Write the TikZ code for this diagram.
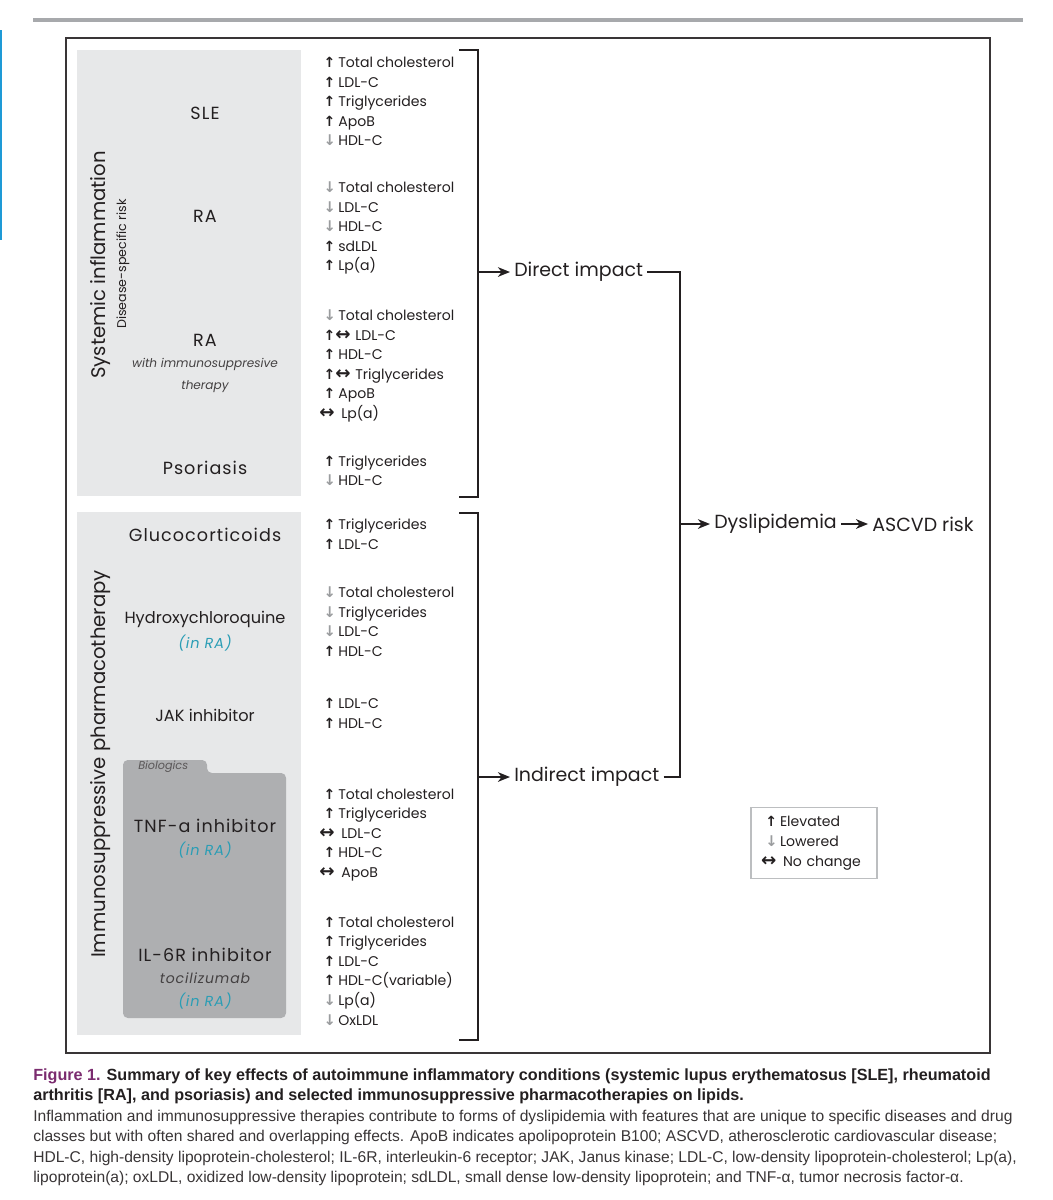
\documentclass[tikz,border=0pt]{standalone}
\usepackage{fontspec}
\setmainfont{Poppins}
\newfontfamily\trackfont[LetterSpace=6]{Poppins}
\newfontfamily\capfont{Liberation Sans}
\newfontfamily\arrfont{DejaVu Sans}
\usepackage{xcolor}
\usetikzlibrary{positioning,arrows.meta}
\definecolor{ink}{HTML}{231F20}
\definecolor{panel}{HTML}{E7E8E9}
\definecolor{bio}{HTML}{AEAFB1}
\definecolor{inra}{HTML}{2A9DB5}
\definecolor{figcol}{HTML}{7B2C6F}
\definecolor{rulegray}{HTML}{A7A9AC}
\definecolor{bluebar}{HTML}{1E9AD6}
\definecolor{legendline}{HTML}{BCBEC0}
\definecolor{lowgray}{HTML}{9A9C9E}
\newcommand{\incr}{\makebox[3.25mm][l]{\hspace*{-0.4mm}\arrfont\bfseries\fontsize{10}{10}\selectfont ↑}}
\newcommand{\decr}{\makebox[3.25mm][l]{\hspace*{-0.4mm}\color{lowgray}\arrfont\bfseries\fontsize{10.5}{10}\selectfont ↓}}
\newcommand{\nochg}{\hspace*{-1.5mm}\makebox[5.5mm][l]{\arrfont\bfseries\fontsize{13}{10}\selectfont ↔}}
\newcommand{\incnc}{\makebox[7.5mm][l]{\hspace*{-0.4mm}\arrfont\bfseries\fontsize{10}{10}\selectfont ↑\fontsize{13}{10}\selectfont ↔}}

\begin{document}
\begin{tikzpicture}[x=0.25mm, y=-0.25mm, >={Stealth[length=3mm,width=2.4mm,inset=0.9mm]},
    headlbl/.style = {text=ink, font=\trackfont\fontsize{12.5}{15}\selectfont},
    drughead/.style = {text=ink, font=\fontsize{11.5}{14}\selectfont},
    sublbl/.style = {text=ink!85, font=\itshape\fontsize{8.6}{10}\selectfont},
    inralbl/.style = {text=inra, font=\trackfont\itshape\fontsize{10.3}{12}\selectfont},
    lipids/.style = {anchor=west, align=left, inner sep=0pt, text=ink, font=\fontsize{10}{13.9}\selectfont},
    sidelbl/.style = {rotate=90, text=ink, font=\fontsize{14}{16}\selectfont},
    flowtxt/.style = {anchor=west, inner sep=0pt, inner xsep=1mm, text=ink, font=\fontsize{13.5}{16}\selectfont},
    wire/.style = {draw=ink, line width=0.45mm},
    legend/.style = {draw=legendline, line width=0.3mm, align=left, text width=23.5mm, inner xsep=4mm, inner ysep=0pt, minimum height=17.75mm, text=ink, font=\fontsize{10}{14.2}\selectfont}]
    \useasboundingbox (0,0) rectangle (1053,1200);
    \fill[rulegray] (33,17.5) rectangle (1023,21.5);
    \fill[bluebar] (0,30) rectangle (2,240);
    \draw[draw=ink!90, line width=0.6mm] (66,38) rectangle (990,1053);
    \fill[panel] (77,50) rectangle (301,496);
    \fill[panel] (77,512) rectangle (301,1035);
    \fill[bio, rounded corners=1.2mm] (123,1018) -- (123,760) -- (207,760) -- (207,773) -- (286,773) -- (286,1018) -- cycle;

    \node[sidelbl] (sys) at (101,265) {Systemic inflammation};
    \node[sidelbl, font=\fontsize{9}{11}\selectfont] (dsr) at (123,264) {Disease-specific risk};
    \node[sidelbl] (isp) at (101,764) {Immunosuppressive pharmacotherapy};

    \node[headlbl] (sle) at (205,113) {SLE};
    \node[headlbl] (ra) at (205,216) {RA};
    \node[headlbl] (rai) at (205,340) {RA};
    \node[sublbl] (rai2) at (205,364) {with immunosuppresive};
    \node[sublbl] (rai3) at (205,387) {therapy};
    \node[headlbl] (pso) at (205,468) {Psoriasis};
    \node[headlbl] (gc) at (205,535) {Glucocorticoids};
    \node[drughead] (hcq) at (205,619) {Hydroxychloroquine};
    \node[inralbl] (hcq2) at (205,643) {(in RA)};
    \node[drughead] (jak) at (205,715) {JAK inhibitor};
    \node[anchor=west, inner sep=0pt, text=ink!75, font=\itshape\fontsize{8}{10}\selectfont] (biol) at (138,767) {Biologics};
    \node[headlbl] (tnf) at (205,826) {TNF-a inhibitor};
    \node[inralbl] (tnf2) at (205,850) {(in RA)};
    \node[headlbl] (il6) at (205,955) {IL-6R inhibitor};
    \node[sublbl, font=\trackfont\itshape\fontsize{10}{12}\selectfont] (il62) at (205,978) {tocilizumab};
    \node[inralbl] (il63) at (205,1001) {(in RA)};

    \node[lipids] (l1) at (325,101.5) {\incr Total cholesterol\\\incr LDL-C\\\incr Triglycerides\\\incr ApoB\\\decr HDL-C};
    \node[lipids] (l2) at (325,228) {\decr Total cholesterol\\\decr LDL-C\\\decr HDL-C\\\incr sdLDL\\\incr Lp(a)};
    \node[lipids] (l3) at (325,366) {\decr Total cholesterol\\\incnc LDL-C\\\incr HDL-C\\\incnc Triglycerides\\\incr ApoB\\\nochg Lp(a)};
    \node[lipids] (l4) at (325,470.5) {\incr Triglycerides\\\decr HDL-C};
    \node[lipids] (l5) at (325,534) {\incr Triglycerides\\\incr LDL-C};
    \node[lipids] (l6) at (325,621.5) {\decr Total cholesterol\\\decr Triglycerides\\\decr LDL-C\\\incr HDL-C};
    \node[lipids] (l7) at (325,713.5) {\incr LDL-C\\\incr HDL-C};
    \node[lipids] (l8) at (325,835) {\incr Total cholesterol\\\incr Triglycerides\\\nochg LDL-C\\\incr HDL-C\\\nochg ApoB};
    \node[lipids] (l9) at (325,971) {\incr Total cholesterol\\\incr Triglycerides\\\incr LDL-C\\\incr HDL-C(variable)\\\decr Lp(a)\\\decr OxLDL};

    \coordinate (b1) at (478,272);
    \coordinate (b2) at (478,777);
    \coordinate (jn) at (680,524);
    \node[flowtxt] (di) at (510,272) {Direct impact};
    \node[flowtxt] (ii) at (510,777) {Indirect impact};
    \node[flowtxt] (dys) at (710,524) {Dyslipidemia};
    \node[flowtxt, right=6.75mm of dys] (risk) {ASCVD risk};

    \draw[wire] (459,50) -| (b1) |- (459,497);
    \draw[wire] (459,513) -| (b2) |- (459,1040);
    \draw[wire, ->] (b1) -- (di.west);
    \draw[wire, ->] (b2) -- (ii.west);
    \draw[wire] (di.east) -| (jn);
    \draw[wire] (ii.east) -| (jn);
    \draw[wire, ->] (jn) -- (dys.west);
    \draw[wire, ->] (dys.east) -- (risk.west);

    \node[legend] (key) at (814,843) {\incr Elevated\\\decr Lowered\\\nochg No change};

    \node[anchor=north west, inner sep=0pt, align=left, text=ink!90, font=\capfont\fontsize{11.1}{14.6}\selectfont] (cap) at (33,1068) {{\fontsize{11.5}{14.6}\selectfont\bfseries\textcolor{figcol}{Figure 1.} \color{ink}Summary of key effects of autoimmune inflammatory conditions (systemic lupus erythematosus [SLE], rheumatoid}\\
    {\fontsize{11.5}{14.6}\selectfont\bfseries\color{ink}arthritis [RA], and psoriasis) and selected immunosuppressive pharmacotherapies on lipids.}\\
    Inflammation and immunosuppressive therapies contribute to forms of dyslipidemia with features that are unique to specific diseases and drug\\
    classes but with often shared and overlapping effects. ApoB indicates apolipoprotein B100; ASCVD, atherosclerotic cardiovascular disease;\\
    HDL-C, high-density lipoprotein-cholesterol; IL-6R, interleukin-6 receptor; JAK, Janus kinase; LDL-C, low-density lipoprotein-cholesterol; Lp(a),\\
    lipoprotein(a); oxLDL, oxidized low-density lipoprotein; sdLDL, small dense low-density lipoprotein; and TNF-α, tumor necrosis factor-α.};
\end{tikzpicture}
\end{document}
